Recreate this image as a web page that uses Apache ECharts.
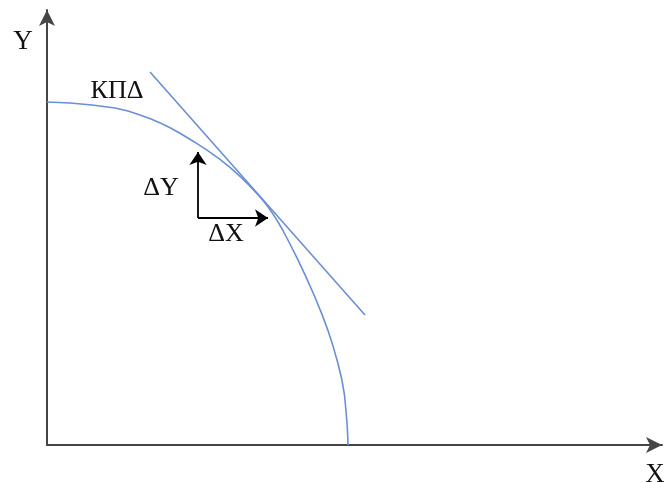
<!DOCTYPE html>
<html>
<head>
<meta charset="utf-8">
<script src="https://cdn.jsdelivr.net/npm/echarts@6/dist/echarts.min.js"></script>
<style>
html,body{margin:0;padding:0;background:#fff;}
#chart{width:664px;height:482px;}
</style>
</head>
<body>
<div id="chart"></div>
<script>
// Production possibility frontier (КПΔ): quantity of good X vs good Y
const frontierX = [0, 23, 45, 68, 81, 93, 104, 115, 124, 133, 147, 160, 173, 183, 193, 203, 214, 221, 229,
  236, 243, 251, 260, 268, 275, 281, 286, 291, 295, 297.5, 299, 300, 300.7, 301];
const frontierY = [343, 342, 340, 337, 334, 330, 325.9, 321.2, 316.7, 311.7, 303.3, 294.8, 285.6, 277.6, 268.7, 258.9, 247.1, 238.3, 226.4,
  214.5, 201, 185.1, 165.9, 147.8, 130.6, 114.4, 98.9, 81.5, 64.7, 50, 34, 22, 10, 0];

// Tangent line touching the frontier
const tangentX = [103, 318];
const tangentY = [373, 130];

// ΔY / ΔX step arrows from a common corner
const corner = [151, 227];
const deltaYEnd = [151, 293];
const deltaXEnd = [221, 227];

const axisMaxX = 615;
const axisMaxY = 435;

const frontier = frontierX.map((x, i) => [x, frontierY[i]]);
const tangent = tangentX.map((x, i) => [x, tangentY[i]]);

const chart = echarts.init(document.getElementById('chart'), null, {renderer: 'canvas'});
const serif = '"Liberation Serif", "DejaVu Serif", serif';
const blue = '#6a8fd4';
const axisColor = '#454545';

function label(text, cx, cy, size) {
  return {
    type: 'text', x: cx, y: cy,
    style: {text: text, fontSize: size, fontFamily: serif, fill: '#111', align: 'center', verticalAlign: 'middle'}
  };
}

chart.setOption({
  animation: false,
  grid: {left: 47, top: 10, width: axisMaxX, height: axisMaxY},
  xAxis: {
    type: 'value', min: 0, max: axisMaxX,
    axisLine: {show: true, symbol: ['none', 'arrow'], symbolSize: [12, 16], lineStyle: {color: axisColor, width: 2}},
    axisTick: {show: false}, axisLabel: {show: false}, splitLine: {show: false}
  },
  yAxis: {
    type: 'value', min: 0, max: axisMaxY,
    axisLine: {show: true, symbol: ['none', 'arrow'], symbolSize: [12, 16], lineStyle: {color: axisColor, width: 2}},
    axisTick: {show: false}, axisLabel: {show: false}, splitLine: {show: false}
  },
  series: [
    {
      type: 'line', data: frontier, smooth: false, showSymbol: false,
      lineStyle: {color: blue, width: 1.6, join: 'round'}
    },
    {
      type: 'line', data: tangent, showSymbol: false,
      lineStyle: {color: blue, width: 1.6}
    },
    {
      type: 'lines', coordinateSystem: 'cartesian2d',
      symbol: ['none', 'arrow'], symbolSize: 13,
      lineStyle: {color: '#000', width: 1.8, opacity: 1},
      data: [
        {coords: [corner, deltaYEnd]},
        {coords: [corner, deltaXEnd]}
      ]
    }
  ],
  graphic: [
    label('Y', 23, 42, 27),
    label('X', 655, 475, 27),
    label('КПΔ', 117, 91, 26),
    label('ΔY', 161, 188, 26),
    label('ΔX', 226, 234, 26)
  ]
});
</script>
</body>
</html>
